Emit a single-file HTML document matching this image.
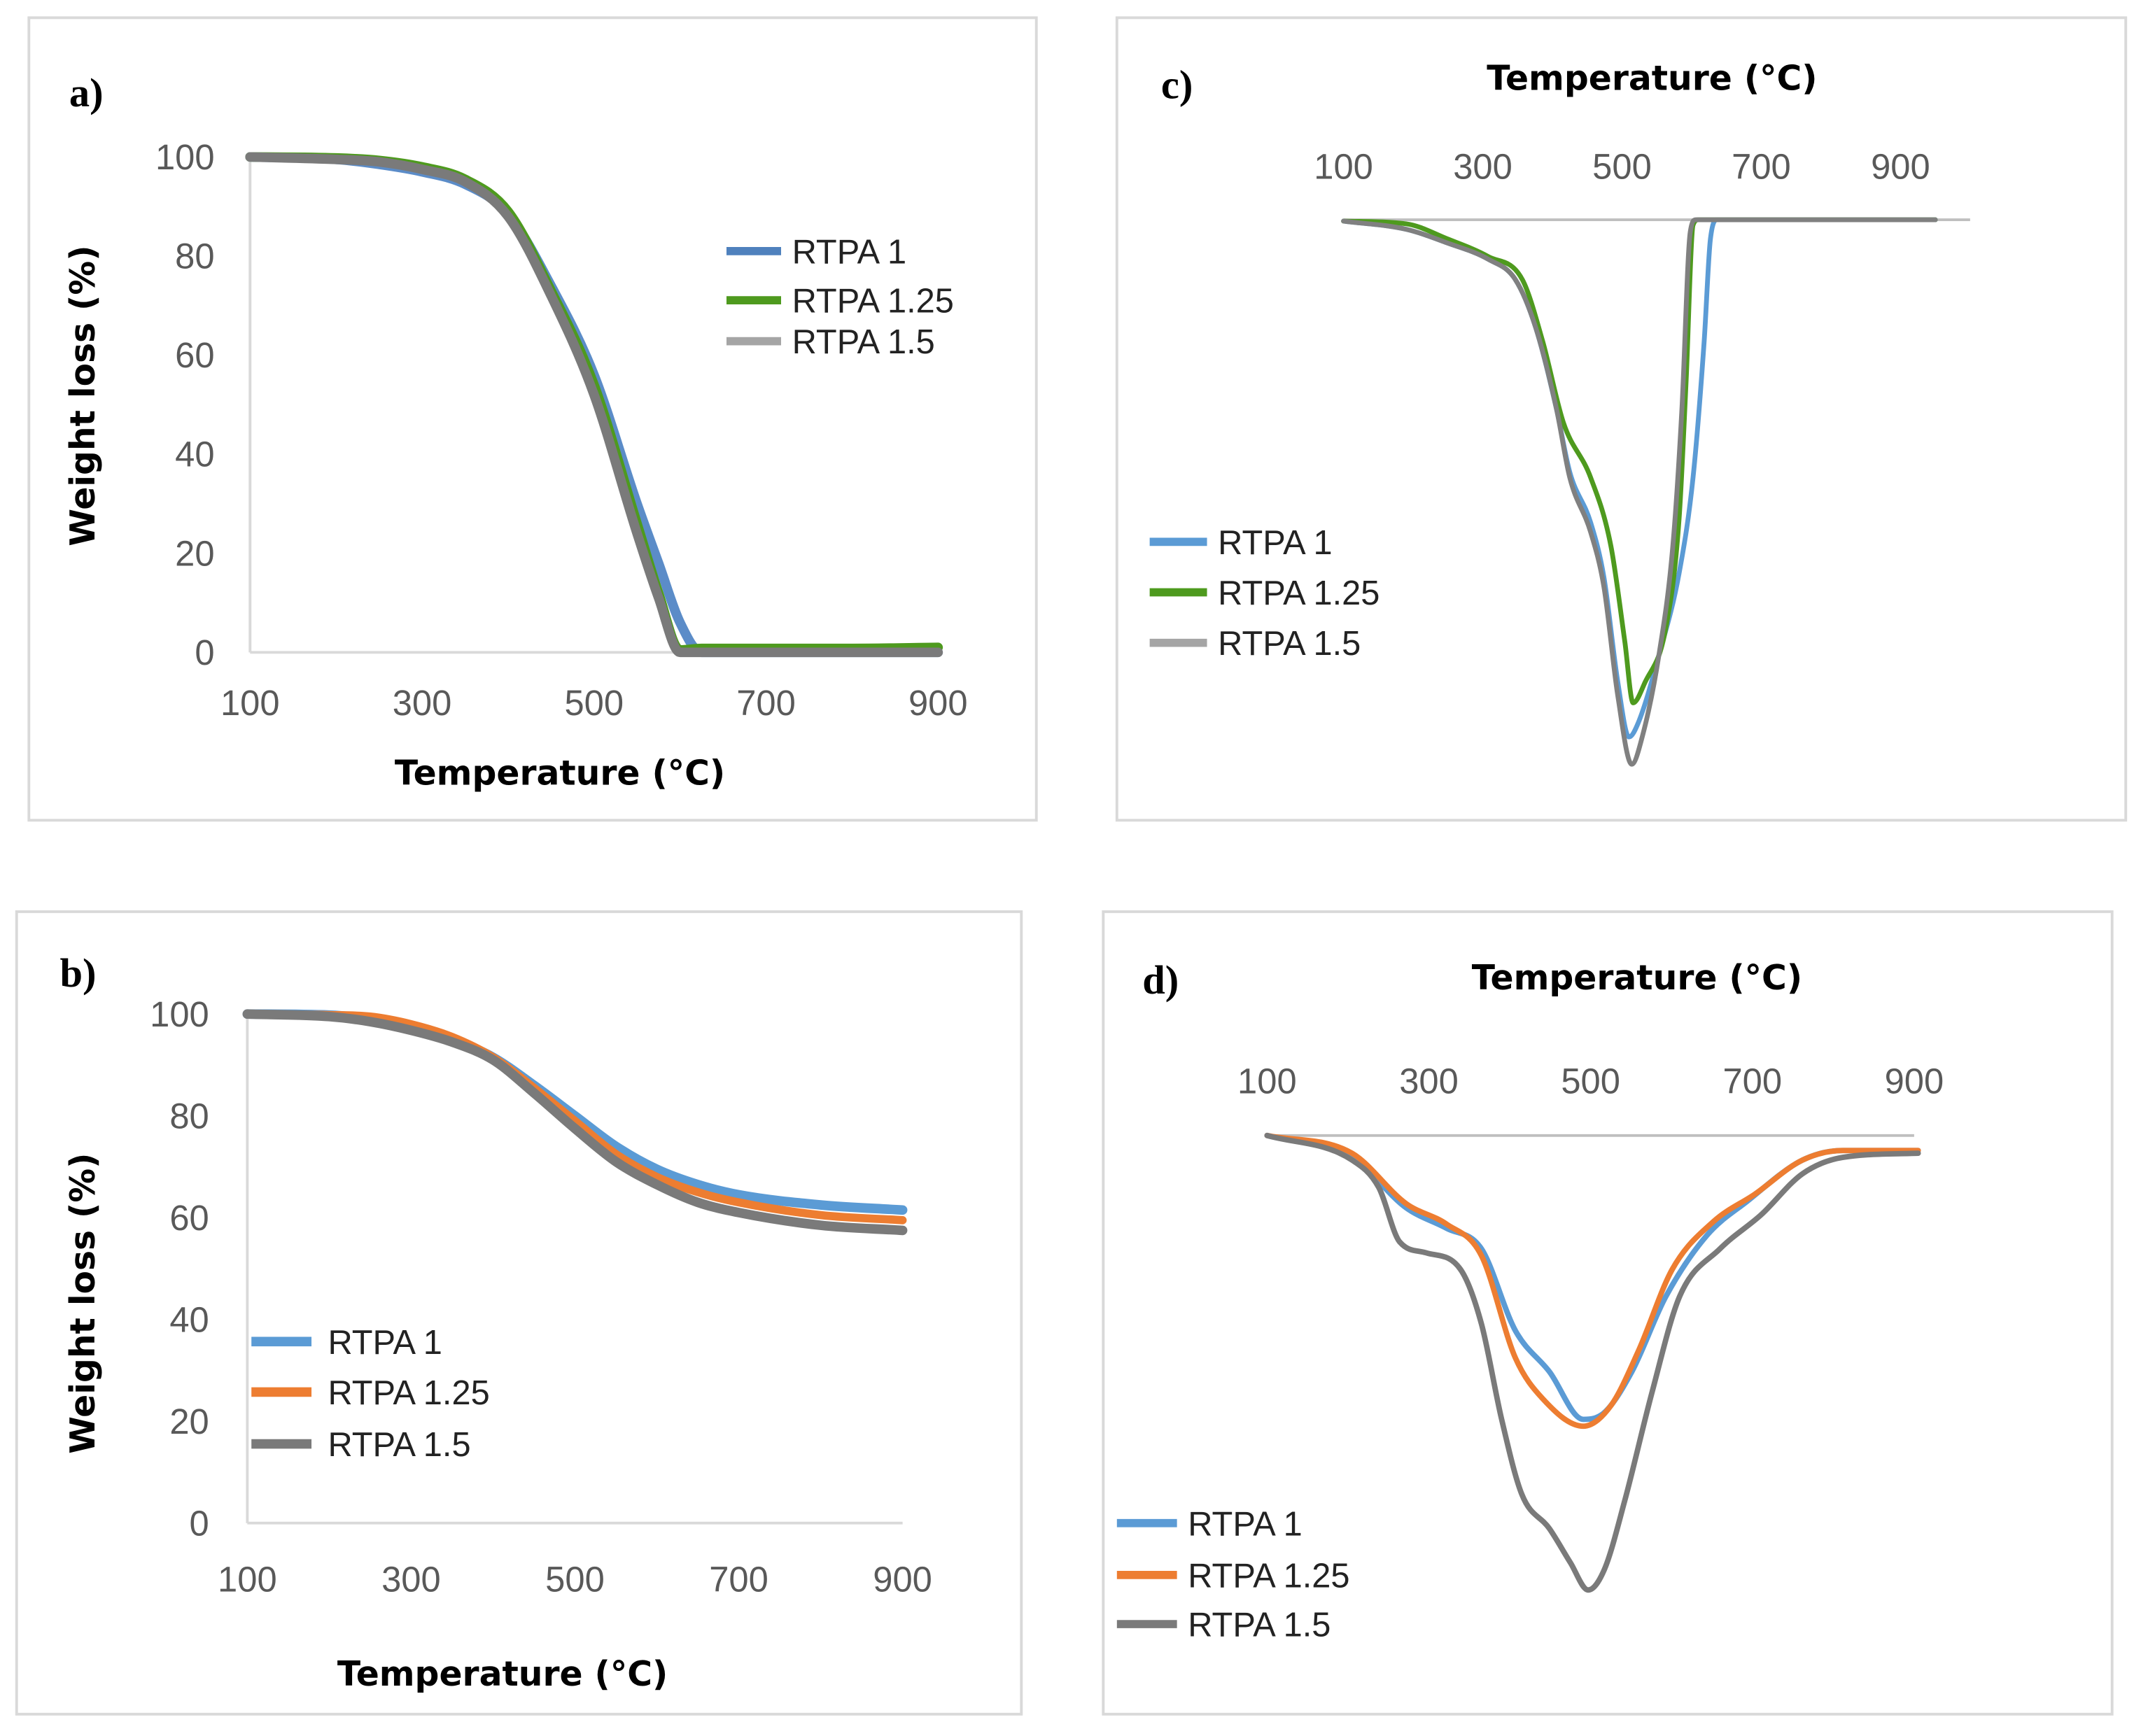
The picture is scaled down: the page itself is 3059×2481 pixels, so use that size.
<!DOCTYPE html>
<html><head><meta charset="utf-8">
<style>
html,body{margin:0;padding:0;background:#fff;}
svg{display:block;}
text{font-family:"Liberation Sans",sans-serif;}
.tick{fill:#595959;font-size:26px;}
.ttl{font-family:"DejaVu Sans","Liberation Sans",sans-serif;font-weight:bold;fill:#000;font-size:25px;}
.lbl{font-family:"Liberation Serif",serif;font-weight:bold;fill:#000;font-size:30px;}
.leg{fill:#222;font-size:25px;}
</style></head>
<body>
<svg id="fig" width="3059" height="2481" viewBox="0 0 1568 1272" xmlns="http://www.w3.org/2000/svg"></svg>
<script>
// ---- Panel a data (TGA, weight %)
const aTemps = [100,200,250,300,350,400,450,500,550,575,600,625,700,800,900];
const aRTPA1 = [100,99.5,98.5,97,94.5,88.5,74,56,30,18,6,0,0,0,0];
const aRTPA125 = [100,99.8,99.3,98,95.5,89,73,54,26,12,0.5,0.8,0.8,0.8,1];
const aRTPA15 = [100,99.5,99,97.5,95,88,72,52,24,11,0,0,0,0,0];
// ---- Panel b data
const bTemps = [100,200,250,300,350,400,450,500,550,600,650,700,800,900];
const bRTPA1 = [100,99.8,99,97.5,95,91.5,86,80,74,69.5,66.5,64.5,62.5,61.5];
const bRTPA125 = [100,99.8,99.5,98,95.5,91.5,85.5,79,72.5,68,65,63,60.5,59.5];
const bRTPA15 = [100,99.5,98.5,96.8,94.5,91,84.5,77.5,71,66.5,63,61,58.5,57.5];
// ---- Panel c data (DTG, arbitrary depth units)
const cTemps1 = [100,190,249,308,347,376,406,425,455,474,494,510,523,553,582,602,618,627,637,700,950];
const cRTPA1 = [-1,-7,-17,-29,-44,-79,-139,-185,-222,-262,-339,-379,-369,-319,-259,-189,-89,-14,0,0,0];
const cTemps125 = [100,190,249,308,357,386,416,455,484,504,516,533,563,582,592,602,610,700,950];
const cRTPA125 = [-1,-3,-14,-27,-44,-89,-149,-189,-239,-309,-354,-339,-299,-219,-119,-4,0,0,0];
const cTemps15 = [100,190,249,308,347,376,406,425,455,474,494,514,529,553,573,586,598,606,700,950];
const cRTPA15 = [-1,-7,-17,-29,-44,-79,-139,-189,-229,-269,-349,-399,-379,-319,-239,-139,-9,0,0,0];
// ---- Panel d data
const dTemps1 = [100,205,272,322,365,407,449,491,517,551,593,644,694,762,812,905];
const dRTPA1 = [0,-16,-53,-68,-83,-143,-173,-208,-203,-173,-118,-73,-48,-18,-11,-11];
const dTemps125 = [100,205,272,322,365,407,441,491,525,559,601,652,703,762,812,905];
const dRTPA125 = [0,-13,-50,-65,-88,-163,-193,-213,-198,-158,-98,-63,-43,-18,-11,-11];
const dTemps15 = [100,205,238,264,297,339,365,390,415,449,475,497,517,542,576,610,660,711,762,812,905];
const dRTPA15 = [0,-18,-38,-78,-86,-98,-138,-208,-263,-288,-313,-333,-318,-268,-188,-118,-83,-58,-28,-16,-13];
const xTicks = [100,300,500,700,900];
const yTicks = [0,20,40,60,80,100];
const legendNames = ["RTPA 1","RTPA 1.25","RTPA 1.5"];

const NS = "http://www.w3.org/2000/svg";
const svg = document.getElementById("fig");
function mk(tag, attrs, parent){const e=document.createElementNS(NS,tag);for(const k in attrs)e.setAttribute(k,attrs[k]);(parent||svg).appendChild(e);return e;}
function txt(x,y,s,cls,anchor,parent){const t=mk("text",{x:x,y:y,class:cls,"text-anchor":anchor||"start"},parent);t.textContent=s;return t;}
// monotone cubic (Fritsch-Carlson) path
function smooth(pts){const n=pts.length,d=[],m=[];
 for(let i=0;i<n-1;i++)d.push((pts[i+1][1]-pts[i][1])/(pts[i+1][0]-pts[i][0]));
 m[0]=d[0];m[n-1]=d[n-2];
 for(let i=1;i<n-1;i++){m[i]=(d[i-1]*d[i]<=0)?0:(d[i-1]+d[i])/2;}
 for(let i=0;i<n-1;i++){if(d[i]===0){m[i]=0;m[i+1]=0;continue;}
  const a=m[i]/d[i],b=m[i+1]/d[i],s=a*a+b*b;if(s>9){const t=3/Math.sqrt(s);m[i]=t*a*d[i];m[i+1]=t*b*d[i];}}
 let p="M"+pts[0][0].toFixed(2)+","+pts[0][1].toFixed(2);
 for(let i=0;i<n-1;i++){const h=(pts[i+1][0]-pts[i][0])/3;
  p+="C"+(pts[i][0]+h).toFixed(2)+","+(pts[i][1]+m[i]*h).toFixed(2)+" "+(pts[i+1][0]-h).toFixed(2)+","+(pts[i+1][1]-m[i+1]*h).toFixed(2)+" "+pts[i+1][0].toFixed(2)+","+pts[i+1][1].toFixed(2);}
 return p;}
function series(g,temps,vals,sx,sy,color,w,name){const p=mk("path",{d:smooth(temps.map((t,i)=>[sx(t),sy(vals[i])])),fill:"none",stroke:color,"stroke-width":w,"stroke-linejoin":"round","stroke-linecap":"round"},g);
 
 
 return p;}
function legend(g,x0,x1,tx,ys,colors,w,prefix){ys.forEach((y,i)=>{
 const l=mk("line",{x1:x0,x2:x1,y1:y,y2:y,stroke:colors[i],"stroke-width":w},g);
 
 
 const t=txt(tx,y+9,legendNames[i],"leg","start",g);
 
 });}
function box(g,x,y,w,h){mk("rect",{x:x,y:y,width:w,height:h,fill:"#fff",stroke:"#d9d9d9","stroke-width":2},g);}

// ===== Panel a
{const g=mk("g",{});
 box(g,21,13,738,588);
 const sx=t=>183+(t-100)*504/800, sy=v=>478-v*3.63;
 mk("line",{x1:183,x2:687,y1:sy(0),y2:sy(0),stroke:"#d9d9d9","stroke-width":2},g);
 mk("line",{x1:183,x2:183,y1:sy(0),y2:sy(100),stroke:"#d9d9d9","stroke-width":2},g);
 yTicks.forEach(v=>txt(157,sy(v)+9,String(v),"tick","end",g));
 xTicks.forEach(t=>txt(sx(t),524,String(t),"tick","middle",g));
 series(g,aTemps,aRTPA1,sx,sy,"#5b8cc8",7,"a-series-rtpa1");
 series(g,aTemps,aRTPA125,sx,sy,"#4e9a1e",7,"a-series-rtpa125");
 series(g,aTemps,aRTPA15,sx,sy,"#7a7a7a",7,"a-series-rtpa15");
 legend(g,532,572,580,[184,220,250],["#4f81bd","#4e9a1e","#a5a5a5"],6,"a");
 const l=txt(63,78,"a)","lbl","middle",g);
 const xt=txt(410,575,"Temperature (°C)","ttl","middle",g);
 const yt=txt(0,0,"Weight loss (%)","ttl","middle",g);yt.setAttribute("transform","translate(69,290) rotate(-90)");}

// ===== Panel b
{const g=mk("g",{});
 box(g,12,668,736,588);
 const sx=t=>181+(t-100)*480/800, sy=v=>1116-v*3.73;
 mk("line",{x1:181,x2:661,y1:sy(0),y2:sy(0),stroke:"#d9d9d9","stroke-width":2},g);
 mk("line",{x1:181,x2:181,y1:sy(0),y2:sy(100),stroke:"#d9d9d9","stroke-width":2},g);
 yTicks.forEach(v=>txt(153,sy(v)+9,String(v),"tick","end",g));
 xTicks.forEach(t=>txt(sx(t),1166,String(t),"tick","middle",g));
 series(g,bTemps,bRTPA1,sx,sy,"#5b9bd5",7,"b-series-rtpa1");
 series(g,bTemps,bRTPA125,sx,sy,"#ed7d31",6,"b-series-rtpa125");
 series(g,bTemps,bRTPA15,sx,sy,"#7a7a7a",7,"b-series-rtpa15");
 legend(g,184,228,240,[983,1020,1058],["#5b9bd5","#ed7d31","#7a7a7a"],7,"b");
 const l=txt(57,723,"b)","lbl","middle",g);
 const xt=txt(368,1235,"Temperature (°C)","ttl","middle",g);
 const yt=txt(0,0,"Weight loss (%)","ttl","middle",g);yt.setAttribute("transform","translate(69,955) rotate(-90)");}

// ===== Panel c
{const g=mk("g",{});
 box(g,818,13,739,588);
 const sx=t=>984+(t-100)*0.51, sy=v=>161-v;
 mk("line",{x1:984,x2:1443,y1:161,y2:161,stroke:"#bfbfbf","stroke-width":2},g);
 xTicks.forEach(t=>txt(sx(t),131,String(t),"tick","middle",g));
 series(g,cTemps1,cRTPA1,sx,sy,"#5b9bd5",3.5,"c-series-rtpa1");
 series(g,cTemps125,cRTPA125,sx,sy,"#4e9a1e",3.5,"c-series-rtpa125");
 series(g,cTemps15,cRTPA15,sx,sy,"#808080",3.5,"c-series-rtpa15");
 legend(g,842,884,892,[397,434,471],["#5b9bd5","#4e9a1e","#a5a5a5"],6,"c");
 const l=txt(862,72,"c)","lbl","middle",g);
 const xt=txt(1210,66,"Temperature (°C)","ttl","middle",g);}

// ===== Panel d
{const g=mk("g",{});
 box(g,808,668,739,588);
 const sx=t=>928+(t-100)*474/800, sy=v=>832-v;
 mk("line",{x1:928,x2:1402,y1:832,y2:832,stroke:"#bfbfbf","stroke-width":2},g);
 xTicks.forEach(t=>txt(sx(t),801,String(t),"tick","middle",g));
 series(g,dTemps1,dRTPA1,sx,sy,"#5b9bd5",4,"d-series-rtpa1");
 series(g,dTemps125,dRTPA125,sx,sy,"#ed7d31",4,"d-series-rtpa125");
 series(g,dTemps15,dRTPA15,sx,sy,"#7a7a7a",4,"d-series-rtpa15");
 legend(g,818,862,870,[1116,1154,1190],["#5b9bd5","#ed7d31","#7a7a7a"],6,"d");
 const l=txt(850,728,"d)","lbl","middle",g);
 const xt=txt(1199,725,"Temperature (°C)","ttl","middle",g);}
</script>
</body></html>
